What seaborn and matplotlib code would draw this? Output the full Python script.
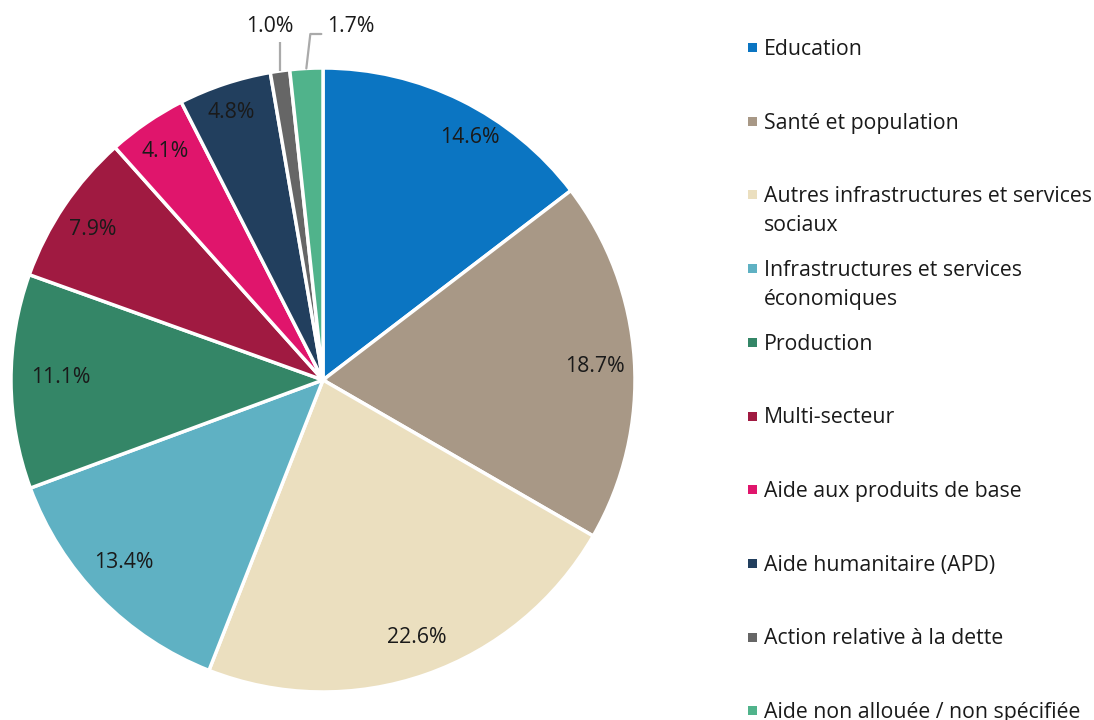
import numpy as np
import matplotlib
matplotlib.use("Agg")
import matplotlib.pyplot as plt
from matplotlib.patches import Rectangle
import seaborn as sns

# Sector shares of aid (percent)
categories = [
    "Education",
    "Santé et population",
    "Autres infrastructures et services\nsociaux",
    "Infrastructures et services\néconomiques",
    "Production",
    "Multi-secteur",
    "Aide aux produits de base",
    "Aide humanitaire (APD)",
    "Action relative à la dette",
    "Aide non allouée / non spécifiée",
]
shares = [14.6, 18.7, 22.6, 13.4, 11.1, 7.9, 4.1, 4.8, 1.0, 1.7]
colors = [
    "#0B75C2", "#A89886", "#EBDFBF", "#5FB1C3", "#348667",
    "#A01A41", "#E0156C", "#223F5E", "#666666", "#50B38B",
]
# Label placement inside each slice: radial factor and angular nudge (deg)
label_radius = [0.909, 0.873, 0.878, 0.864, 0.84, 0.882, 0.891, 0.905, 1.0, 1.0]
label_nudge = [-5.0, -0.8, 0.65, -1.9, -0.8, 0.9, 0.3, 0.6, 0.0, 0.0]

sns.set_theme(style="white")
plt.rcParams["font.family"] = ["Open Sans", "DejaVu Sans"]

W, H = 1094, 720
fig = plt.figure(figsize=(W / 100, H / 100), dpi=100)
ax = fig.add_axes([0, 0, 1, 1])

cx, cy, R = 323, 340, 312

wedges, _ = ax.pie(
    shares, colors=colors, startangle=90, counterclock=False,
    center=(cx, cy), radius=R, frame=True,
    wedgeprops=dict(edgecolor="white", linewidth=2.5),
)
ax.set_xlim(0, W)
ax.set_ylim(0, H)
ax.set_aspect("equal")
ax.axis("off")

text_color = "#1a1a1a"
fs = 15.3
lead = "#aaaaaa"

# Value labels: inside for large slices, outside with leader lines for small ones
for w, v, rf, nd in zip(wedges, shares, label_radius, label_nudge):
    mid = np.deg2rad((w.theta1 + w.theta2) / 2)
    label = f"{v:.1f}%"
    if v >= 3:
        a = mid + np.deg2rad(nd)
        d = rf * R
        ax.text(cx + d * np.cos(a), cy + d * np.sin(a), label,
                ha="center", va="center", fontsize=fs, color=text_color)
    else:
        ex, ey = cx + R * np.cos(mid), cy + R * np.sin(mid)
        if v < 1.5:
            ax.plot([ex, ex], [ey, H - 42], color=lead, lw=1.6,
                    solid_capstyle="butt")
            ax.text(ex - 10, H - 27, label, ha="center", va="center",
                    fontsize=fs, color=text_color)
        else:
            kx = ex + 4
            ax.plot([ex, kx, kx + 11], [ey, H - 34, H - 34],
                    color=lead, lw=1.6)
            ax.text(kx + 17, H - 27, label, ha="left", va="center",
                    fontsize=fs, color=text_color)

# Legend with evenly spaced entries
y0, step = H - 47.5, 73.7
for i, (lab, col) in enumerate(zip(categories, colors)):
    y = y0 - i * step
    ax.add_patch(Rectangle((747.5, y - 4.5), 9, 9, facecolor=col,
                           edgecolor="none"))
    ax.text(764, y + 8.7, lab, ha="left", va="top", fontsize=fs,
            color=text_color, linespacing=1.48)

fig.savefig("out.png", dpi=100, facecolor="white")
